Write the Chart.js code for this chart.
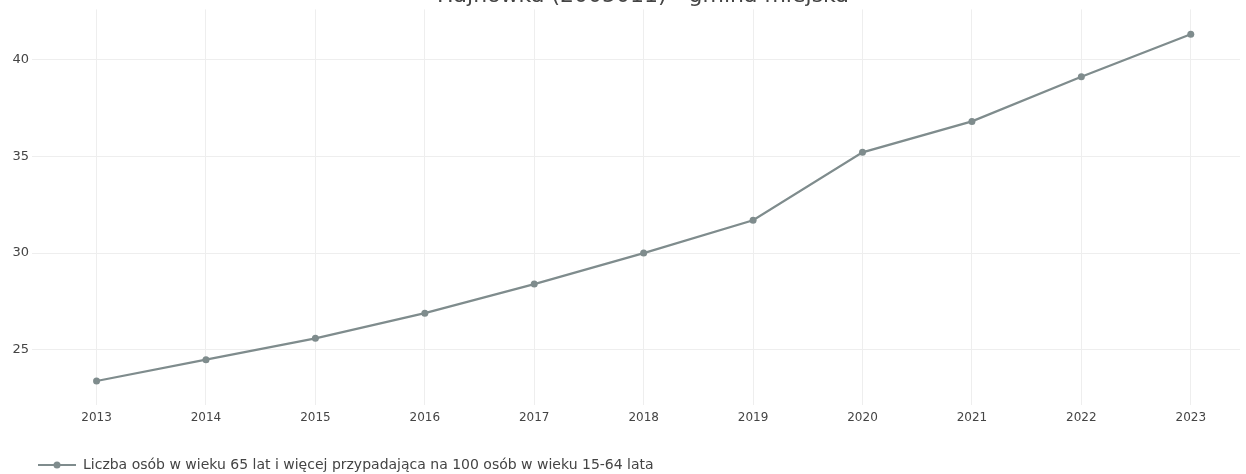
<!DOCTYPE html>
<html>
<head>
<meta charset="utf-8">
<script src="https://cdn.jsdelivr.net/npm/chart.js@4.4.1/dist/chart.umd.min.js"></script>
<style>
  html, body { margin: 0; padding: 0; background: #fff; overflow: hidden; }
  #wrap { position: absolute; left: 0; top: -17px; width: 1246px; height: 499px; }
</style>
</head>
<body>
<div id="wrap"><canvas id="c"></canvas></div>
<script>
const years = [2013, 2014, 2015, 2016, 2017, 2018, 2019, 2020, 2021, 2022, 2023];
const values = [23.4, 24.5, 25.6, 26.9, 28.4, 30.0, 31.7, 35.2, 36.8, 39.1, 41.3];
const seriesLabel = 'Liczba osób w wieku 65 lat i więcej przypadająca na 100 osób w wieku 15-64 lata';
const titleText = 'Hajnówka (2005011) - gmina miejska';
const yStep = 5;

const lineColor = 'rgb(127,140,141)';
const FONT = '"DejaVu Sans", Verdana, sans-serif';

// legend symbol: line with a marker (with transparent left margin)
const sym = document.createElement('canvas');
sym.width = 66; sym.height = 10;
(function () {
  const g = sym.getContext('2d');
  g.strokeStyle = lineColor; g.lineWidth = 2;
  g.beginPath(); g.moveTo(28, 5); g.lineTo(66, 5); g.stroke();
  g.fillStyle = lineColor;
  g.beginPath(); g.arc(47, 5, 3.5, 0, Math.PI * 2); g.fill();
})();

// center the title over the plot area instead of the whole canvas
const titleShift = {
  id: 'titleShift',
  afterLayout(chart) {
    if (chart.titleBlock) chart.titleBlock.left = 46;
  }
};

new Chart(document.getElementById('c'), {
  type: 'line',
  plugins: [titleShift],
  data: {
    datasets: [{
      label: seriesLabel,
      data: years.map((y, i) => ({ x: y, y: values[i] })),
      borderColor: lineColor,
      backgroundColor: lineColor,
      borderWidth: 2.2,
      pointRadius: 3.5,
      pointHoverRadius: 3.5,
      pointBackgroundColor: lineColor,
      pointBorderWidth: 0,
      pointStyle: 'circle',
      tension: 0
    }]
  },
  options: {
    responsive: true,
    maintainAspectRatio: false,
    animation: false,
    events: [],
    layout: { padding: { left: 0, right: 6, top: 0, bottom: 0 } },
    scales: {
      x: {
        type: 'linear',
        min: 2012.41,
        max: 2023.45,
        afterFit: s => { s.height = 43; },
        ticks: {
          stepSize: 1,
          includeBounds: false,
          padding: 6,
          color: '#444',
          font: { family: FONT, size: 12 },
          maxRotation: 0,
          callback: v => String(v)
        },
        grid: { color: '#eeeeee', lineWidth: 1, drawTicks: false },
        border: { display: false }
      },
      y: {
        min: 22.16,
        max: 42.58,
        afterFit: s => { s.width = 32; },
        ticks: {
          stepSize: yStep,
          includeBounds: false,
          padding: 3,
          color: '#444',
          font: { family: FONT, size: 13 },
          callback: v => String(v)
        },
        grid: { color: '#eeeeee', lineWidth: 1, drawTicks: false },
        border: { display: false }
      }
    },
    plugins: {
      title: {
        display: true,
        text: titleText,
        color: '#444',
        font: { family: FONT, size: 22, weight: 'normal' },
        padding: { top: 0, bottom: 0 }
      },
      legend: {
        display: true,
        position: 'bottom',
        align: 'start',
        labels: {
          usePointStyle: true,
          pointStyle: sym,
          pointStyleWidth: 66,
          boxHeight: 10,
          padding: 10,
          color: '#444',
          font: { family: FONT, size: 14 }
        }
      },
      tooltip: { enabled: false }
    }
  }
});
</script>
</body>
</html>
